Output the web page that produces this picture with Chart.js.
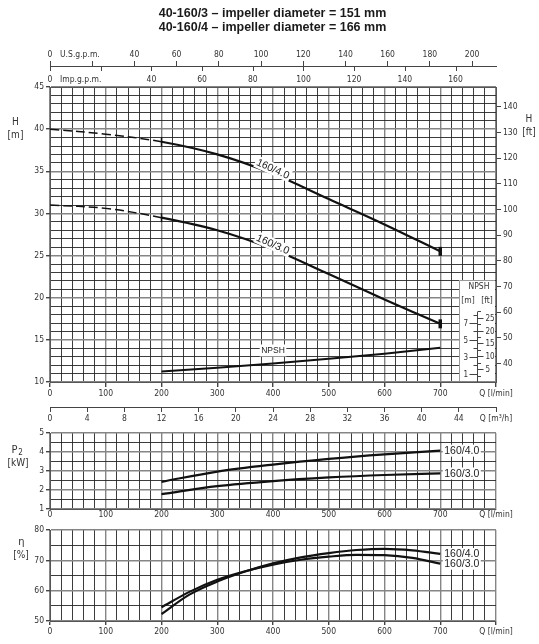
<!DOCTYPE html>
<html>
<head>
<meta charset="utf-8">
<title>40-160 pump curves</title>
<script src="https://cdn.jsdelivr.net/npm/chart.js@4.4.1/dist/chart.umd.min.js"></script>
<style>
  body { margin: 0; background: #fff; }
  #sheet { position: relative; width: 539px; height: 644px; overflow: hidden; background: #fff; }
  #sheet canvas { position: absolute; left: 0; }
  .title { position: absolute; left: 3px; width: 539px; text-align: center; white-space: nowrap;
           font: bold 12.5px "Liberation Sans", Arial, sans-serif; color: #1a1a1a; }
</style>
</head>
<body>
<div id="sheet">
  <canvas id="headChart" width="539" height="430" style="top:0"></canvas>
  <canvas id="powerChart" width="539" height="110" style="top:420px"></canvas>
  <canvas id="effChart" width="539" height="129" style="top:515px"></canvas>
  <div class="title" style="top:6px">40-160/3 – impeller diameter = 151 mm</div>
  <div class="title" style="top:20px">40-160/4 – impeller diameter = 166 mm</div>
</div>
<script>
// 📈 Values (Q in l/min)
const qHead = [0, 100, 200, 300, 400, 500, 600, 700];
const head40 = [40.0, 39.4, 38.5, 37.0, 34.7, 31.7, 28.7, 25.5];
const head30 = [31.0, 30.6, 29.5, 28.0, 25.75, 22.8, 19.8, 16.9];
const qNpsh = [200, 300, 400, 500, 600, 700];
const npshM = [1.25, 1.7, 2.2, 2.75, 3.35, 4.05];
const qPower = [200, 300, 400, 500, 600, 700];
const power40 = [2.43, 2.97, 3.34, 3.64, 3.88, 4.07];
const power30 = [1.78, 2.20, 2.47, 2.66, 2.79, 2.87];
const qEff = [200, 250, 300, 350, 400, 450, 500, 550, 600, 650, 700];
const eff40 = [52.3, 58.7, 63.0, 66.3, 69.0, 71.0, 72.4, 73.4, 73.8, 73.3, 72.1];
const eff30 = [54.5, 59.6, 63.6, 66.4, 68.6, 70.2, 71.2, 71.8, 71.7, 70.8, 68.9];
const curveNames = ["160/4.0", "160/3.0"];
const markerQ = [200, 700];      // ends of the working range
const dashedUpTo = 200;

// 🏷️ Tick labels
const qTickLabels = [0, 100, 200, 300, 400, 500, 600, 700];
const usTickLabels = [0, 40, 60, 80, 100, 120, 140, 160, 180, 200];
const impTickLabels = [0, 40, 60, 80, 100, 120, 140, 160];
const m3TickLabels = [0, 4, 8, 12, 16, 20, 24, 28, 32, 36, 40, 44];
const headTickLabels = [10, 15, 20, 25, 30, 35, 40, 45];
const ftTickLabels = [40, 50, 60, 70, 80, 90, 100, 110, 120, 130, 140];
const npshMTickLabels = [1, 3, 5, 7];
const npshFtTickLabels = [5, 10, 15, 20, 25];
const powerTickLabels = [1, 2, 3, 4, 5];
const effTickLabels = [50, 60, 70, 80];

const Q_MAX = 800, HEAD_MIN = 10, HEAD_MAX = 45, NPSH_AXIS_TOP = 8.3;
const US_GPM = 0.264172, IMP_GPM = 0.219969, M3H = 0.06, FT = 3.28084;

const FONT = "'Liberation Sans Narrow', 'DejaVu Sans Condensed', 'Liberation Sans', sans-serif";
const LABEL_FONT = "'Liberation Sans', 'DejaVu Sans', sans-serif";
const GRID_MAJOR = "#858585", GRID_MINOR = "#262626", INK = "#111";

Chart.defaults.font.family = FONT;
Chart.defaults.font.size = 8.5;
Chart.defaults.color = "#333";
Chart.defaults.animation = false;
Chart.defaults.events = [];
Chart.defaults.plugins.legend.display = false;
Chart.defaults.plugins.tooltip.enabled = false;

const near = (v, step) => Math.abs(v / step - Math.round(v / step)) < 1e-6;
const points = (xs, ys) => xs.map((x, i) => ({ x, y: ys[i] }));
const fixWidth = w => s => { s.width = w; };
const fixHeight = h => s => { s.height = h; };

function gridFor(step, extra) {
    const major = c => c.tick && near(c.tick.value, step);
    return Object.assign({
        color: c => major(c) ? GRID_MAJOR : GRID_MINOR,
        lineWidth: c => major(c) ? 1.4 : 0.9,
        tickColor: c => major(c) ? "#444" : "rgba(0,0,0,0)",
        tickLength: 4
    }, extra);
}

function flowAxis(height, tickLength) {
    return {
        type: "linear", position: "bottom", weight: 1, min: 0, max: Q_MAX,
        afterFit: fixHeight(height),
        grid: gridFor(100, { tickLength: tickLength, drawTicks: tickLength > 0 }),
        border: { color: "#555" },
        ticks: {
            stepSize: 20, autoSkip: false, maxRotation: 0, padding: tickLength > 0 ? 2 : 1,
            callback: v => v === Q_MAX ? "Q [l/min]" : (qTickLabels.includes(v) ? v : "")
        }
    };
}

function valueAxis(min, max, step, labels, majorStep) {
    return {
        min, max, afterFit: fixWidth(50),
        grid: gridFor(majorStep),
        border: { color: "#555" },
        ticks: { stepSize: step, autoSkip: false, padding: 2, callback: v => labels.includes(v) ? v : "" }
    };
}

function curve(label, data, extra) {
    return Object.assign({
        label, data, borderColor: INK, borderWidth: 2.2, pointRadius: 0, fill: false,
        cubicInterpolationMode: "monotone"
    }, extra);
}

const headStyle = {
    cubicInterpolationMode: "default",
    tension: 0.35,
    segment: {
        borderDash: c => c.p1.parsed.x <= dashedUpTo ? [9, 4] : undefined,
        borderWidth: c => c.p1.parsed.x <= dashedUpTo ? 1.5 : undefined
    },
    pointStyle: "line",
    pointRotation: 90,
    pointRadius: c => c.raw && markerQ.includes(c.raw.x) ? 4.5 : 0,
    pointBorderWidth: c => c.raw && c.raw.x === markerQ[1] ? 3.5 : 1.5,
    pointBorderColor: INK
};

// ✏️ Axis names beside the plots
const sideNotes = {
    id: "sideNotes",
    afterDraw(chart, args, opts) {
        const { ctx, chartArea } = chart;
        ctx.save();
        ctx.fillStyle = "#333";
        ctx.textAlign = "center";
        ctx.textBaseline = "middle";
        (opts.items || []).forEach(n => {
            ctx.font = `${n.size || 10}px ${FONT}`;
            ctx.fillText(n.text, n.x, chartArea.top + n.dy);
        });
        ctx.restore();
    }
};

// ✏️ Curve names written on / beside the curves
const curveNotes = {
    id: "curveNotes",
    afterDatasetsDraw(chart, args, opts) {
        const { ctx } = chart;
        (opts.items || []).forEach(item => {
            const ds = chart.data.datasets[item.ds];
            const xs = chart.scales[ds.xAxisID || "x"];
            const ys = chart.scales[ds.yAxisID || "y"];
            const i = ds.data.findIndex(p => p.x === item.q);
            const p = ds.data[i];
            const next = ds.data[Math.min(i + 1, ds.data.length - 1)];
            const x = xs.getPixelForValue(p.x), y = ys.getPixelForValue(p.y);
            const angle = item.rotate
                ? Math.atan2(ys.getPixelForValue(next.y) - y, xs.getPixelForValue(next.x) - x) : 0;
            const text = item.text || ds.label;
            ctx.save();
            ctx.font = `${item.size || 10.5}px ${LABEL_FONT}`;
            const w = ctx.measureText(text).width;
            const left = item.align === "left" ? 0 : -w / 2;
            ctx.translate(x + (item.dx || 0), y + (item.dy || 0));
            ctx.rotate(angle);
            ctx.fillStyle = "#fff";
            ctx.fillRect(left - 1.5, -6, w + 3, 12);
            ctx.fillStyle = "#222";
            ctx.textAlign = "left";
            ctx.textBaseline = "middle";
            ctx.fillText(text, left, 0.5);
            ctx.restore();
        });
    }
};

// 📏 Unit names of the gallon scales and the Imp. ticks under the shared line
const flowUnits = {
    id: "flowUnits",
    afterDraw(chart) {
        const { ctx } = chart;
        const us = chart.scales.xus, imp = chart.scales.ximp;
        ctx.save();
        ctx.strokeStyle = "#444";
        ctx.lineWidth = 1;
        for (let v = 0; v <= imp.max; v += 20) {
            const x = Math.round(imp.getPixelForValue(v)) + 0.5;
            ctx.beginPath();
            ctx.moveTo(x, us.bottom);
            ctx.lineTo(x, us.bottom + 5);
            ctx.stroke();
        }
        ctx.font = `8.5px ${FONT}`;
        ctx.fillStyle = "#333";
        ctx.textBaseline = "middle";
        ctx.textAlign = "left";
        ctx.fillText("U.S.g.p.m.", us.getPixelForValue(0) + 10, us.bottom - 11);
        ctx.fillText("Imp.g.p.m.", imp.getPixelForValue(0) + 10, imp.bottom - 7);
        ctx.restore();
    }
};

// 📦 NPSH scale box in the lower right corner of the head plot
const npshInset = {
    id: "npshInset",
    beforeDatasetsDraw(chart) {
        const { ctx, chartArea: a } = chart;
        const s = chart.scales.ynpsh;
        const left = a.right - 37, top = a.bottom - 102, ax = a.right - 18.5;
        const tick = (x1, x2, y) => { ctx.beginPath(); ctx.moveTo(x1, y); ctx.lineTo(x2, y); ctx.stroke(); };
        ctx.save();
        ctx.fillStyle = "#fff";
        ctx.fillRect(left, top, a.right - left - 1, a.bottom - top - 1);
        ctx.strokeStyle = "#9a9a9a";
        ctx.lineWidth = 1;
        ctx.beginPath();
        ctx.moveTo(left + 0.5, a.bottom - 1);
        ctx.lineTo(left + 0.5, top + 0.5);
        ctx.lineTo(a.right - 1, top + 0.5);
        ctx.stroke();

        ctx.strokeStyle = "#444";
        ctx.beginPath();
        ctx.moveTo(ax, a.bottom);
        ctx.lineTo(ax, s.getPixelForValue(NPSH_AXIS_TOP));
        ctx.stroke();

        ctx.fillStyle = "#333";
        ctx.textBaseline = "middle";
        ctx.font = `8px ${FONT}`;
        for (let m = 1; m <= 8; m++) {
            const y = Math.round(s.getPixelForValue(m)) + 0.5;
            const labelled = npshMTickLabels.includes(m);
            tick(ax - (labelled ? 8 : 4), ax, y);
            if (labelled) { ctx.textAlign = "right"; ctx.fillText(m, ax - 9.5, y); }
        }
        for (let f = 2.5; f <= 27.5; f += 2.5) {
            const y = Math.round(s.getPixelForValue(f / FT)) + 0.5;
            const labelled = npshFtTickLabels.includes(f);
            tick(ax, ax + (labelled ? 6 : 3.5), y);
            if (labelled) { ctx.textAlign = "left"; ctx.fillText(f, ax + 8, y); }
        }
        ctx.font = `8.5px ${FONT}`;
        ctx.textAlign = "center";
        ctx.fillText("NPSH", ax + 1.5, top + 7);
        ctx.fillText("[m]", ax - 9.5, top + 21);
        ctx.fillText("[ft]", ax + 9.5, top + 21);
        ctx.restore();
    }
};

// 📊 Head H and NPSH
new Chart(document.getElementById("headChart"), {
    type: "line",
    data: {
        datasets: [
            curve(curveNames[0], points(qHead, head40), headStyle),
            curve(curveNames[1], points(qHead, head30), headStyle),
            curve("NPSH", points(qNpsh, npshM), { yAxisID: "ynpsh", borderWidth: 2 })
        ]
    },
    options: {
        responsive: false,
        layout: { padding: { top: 40 } },
        scales: {
            x: flowAxis(25, 5),
            xm3: {
                type: "linear", position: "bottom", weight: 2, min: 0, max: Math.round(Q_MAX * M3H),
                afterFit: fixHeight(23),
                grid: { drawOnChartArea: false, tickLength: 5, color: "#444" },
                border: { color: "#444" },
                ticks: {
                    stepSize: 4, autoSkip: false, maxRotation: 0, padding: 2,
                    callback: v => v === Math.round(Q_MAX * M3H) ? "Q [m³/h]" : (m3TickLabels.includes(v) ? v : "")
                }
            },
            xus: {
                type: "linear", position: "top", weight: 2, min: 0, max: Q_MAX * US_GPM,
                afterFit: fixHeight(26),
                grid: { drawOnChartArea: false, tickLength: 5, color: "#444" },
                border: { color: "#444" },
                ticks: {
                    stepSize: 20, autoSkip: false, maxRotation: 0, padding: 1, includeBounds: false,
                    callback: v => usTickLabels.includes(v) ? v : ""
                }
            },
            ximp: {
                type: "linear", position: "top", weight: 1, min: 0, max: Q_MAX * IMP_GPM,
                afterFit: fixHeight(21),
                grid: { drawOnChartArea: false, drawTicks: false },
                border: { color: "#555" },
                ticks: {
                    stepSize: 20, autoSkip: false, maxRotation: 0, padding: 2, includeBounds: false,
                    callback: v => impTickLabels.includes(v) ? v : ""
                }
            },
            y: valueAxis(HEAD_MIN, HEAD_MAX, 1, headTickLabels, 5),
            yft: {
                position: "right", min: HEAD_MIN * FT, max: HEAD_MAX * FT,
                afterFit: fixWidth(43),
                grid: { drawOnChartArea: false, tickLength: 5, color: "#444" },
                border: { color: "#555" },
                ticks: {
                    stepSize: 10, autoSkip: false, padding: 2, includeBounds: false,
                    callback: v => ftTickLabels.includes(v) ? v : ""
                }
            },
            ynpsh: { display: false, min: 0, max: HEAD_MAX - HEAD_MIN }
        },
        plugins: {
            sideNotes: {
                items: [
                    { text: "H", x: 15.5, dy: 35 }, { text: "[m]", x: 15.5, dy: 48 },
                    { text: "H", x: 529, dy: 32 }, { text: "[ft]", x: 529, dy: 45 }
                ]
            },
            curveNotes: {
                items: [
                    { ds: 0, q: 400, dy: -5, rotate: true },
                    { ds: 1, q: 400, dy: -5, rotate: true },
                    { ds: 2, q: 400, dy: -13, size: 8.5 }
                ]
            }
        }
    },
    plugins: [npshInset, curveNotes, flowUnits, sideNotes]
});

// 📊 Shaft power P2
new Chart(document.getElementById("powerChart"), {
    type: "line",
    data: {
        datasets: [
            curve(curveNames[0], points(qPower, power40)),
            curve(curveNames[1], points(qPower, power30))
        ]
    },
    options: {
        responsive: false,
        layout: { padding: { top: 13, right: 43 } },
        scales: {
            x: flowAxis(21, 0),
            y: valueAxis(1, 5, 0.5, powerTickLabels, 1)
        },
        plugins: {
            sideNotes: {
                items: [
                    { text: "P", x: 14.5, dy: 17, size: 11 }, { text: "2", x: 20.5, dy: 20, size: 8 },
                    { text: "[kW]", x: 18, dy: 30 }
                ]
            },
            curveNotes: {
                items: [
                    { ds: 0, q: 700, dx: 4, align: "left" },
                    { ds: 1, q: 700, dx: 4, align: "left" }
                ]
            }
        }
    },
    plugins: [curveNotes, sideNotes]
});

// 📊 Efficiency η
new Chart(document.getElementById("effChart"), {
    type: "line",
    data: {
        datasets: [
            curve(curveNames[0], points(qEff, eff40)),
            curve(curveNames[1], points(qEff, eff30))
        ]
    },
    options: {
        responsive: false,
        layout: { padding: { top: 15, right: 43 } },
        scales: {
            x: flowAxis(23, 4),
            y: valueAxis(50, 80, 5, effTickLabels, 10)
        },
        plugins: {
            sideNotes: {
                items: [
                    { text: "η", x: 21.5, dy: 12, size: 11 }, { text: "[%]", x: 21, dy: 25 }
                ]
            },
            curveNotes: {
                items: [
                    { ds: 0, q: 700, dx: 4, align: "left" },
                    { ds: 1, q: 700, dx: 4, align: "left" }
                ]
            }
        }
    },
    plugins: [curveNotes, sideNotes]
});
</script>
</body>
</html>
